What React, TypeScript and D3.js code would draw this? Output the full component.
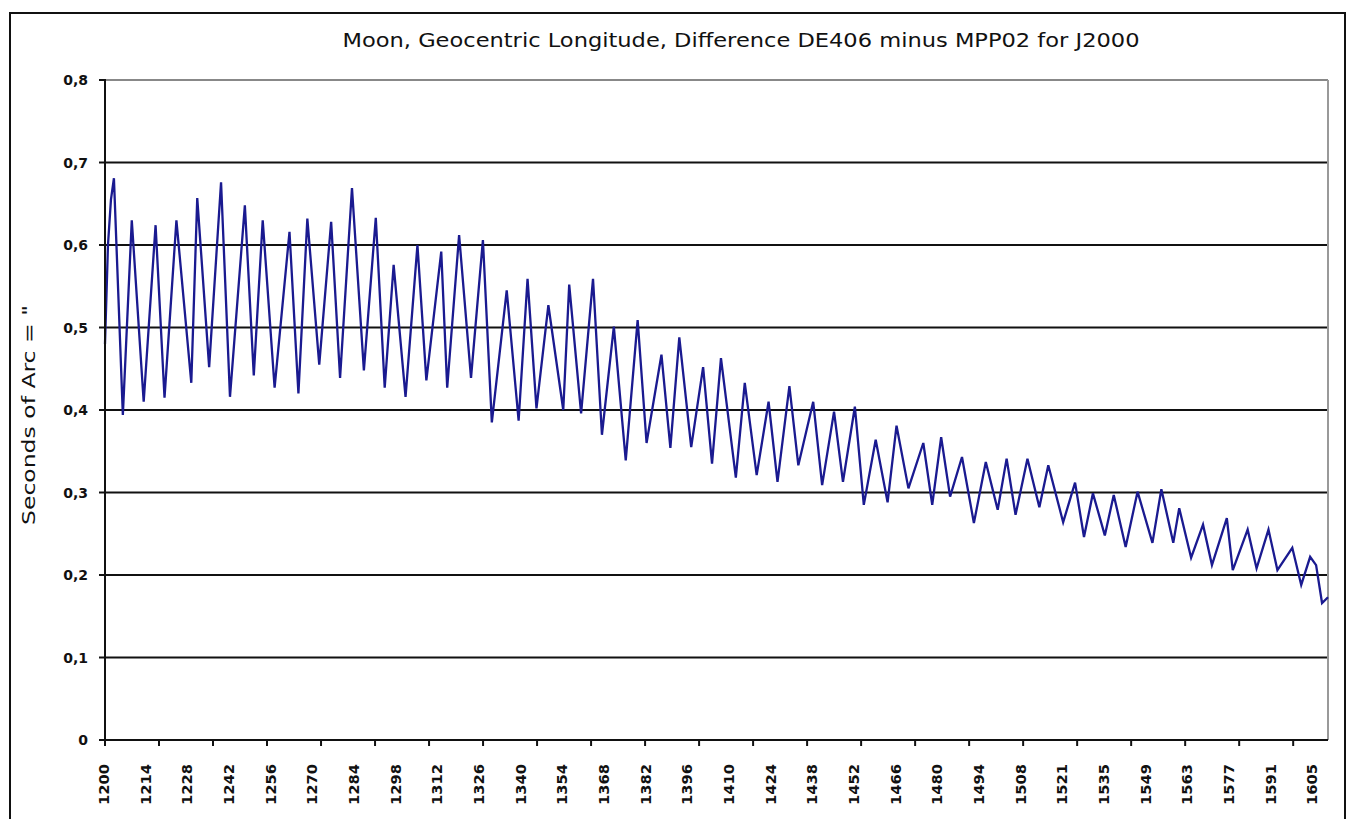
import React from "react";
import * as d3 from "d3";

// ---- data ----
// sample index (one category per sample, labels every 14 samples) and value in seconds of arc
const pointIdx = [
  0, 1, 2, 3, 6, 9, 13, 17, 20, 24, 29, 31, 35, 39, 42, 47, 50, 53, 57, 62, 65, 68,
  72, 76, 79, 83, 87, 91, 94, 97, 101, 105, 108, 113, 115, 119, 123, 127, 130, 135,
  139, 142, 145, 149, 154, 156, 160, 164, 167, 171, 175, 179, 182, 187, 190, 193, 197,
  201, 204, 207, 212, 215, 219, 223, 226, 230, 233, 238, 241, 245, 248, 252, 255, 259,
  263, 266, 270, 275, 278, 281, 284, 288, 292, 296, 300, 303, 306, 310, 314, 317, 322,
  326, 329, 332, 336, 339, 343, 347, 352, 355, 359, 361, 365, 369, 372, 377, 379, 384,
  387, 391, 394, 399, 402, 405, 407, 409, 411,
];
const arcSeconds = [
  0.48, 0.6, 0.655, 0.681, 0.394, 0.63, 0.41, 0.624, 0.415, 0.63, 0.433, 0.657, 0.452,
  0.676, 0.416, 0.648, 0.442, 0.63, 0.427, 0.616, 0.42, 0.632,
  0.455, 0.628, 0.439, 0.669, 0.448, 0.633, 0.427, 0.576, 0.416, 0.6, 0.436, 0.592,
  0.427, 0.612, 0.439, 0.606, 0.385, 0.545,
  0.387, 0.559, 0.402, 0.527, 0.4, 0.552, 0.396, 0.559, 0.37, 0.501, 0.339, 0.509, 0.36,
  0.467, 0.354, 0.488, 0.355,
  0.452, 0.335, 0.463, 0.318, 0.433, 0.321, 0.41, 0.313, 0.429, 0.333, 0.41, 0.309,
  0.398, 0.313, 0.404, 0.285, 0.364,
  0.288, 0.381, 0.305, 0.36, 0.285, 0.367, 0.295, 0.343, 0.263, 0.337, 0.279, 0.341,
  0.273, 0.341, 0.282, 0.333, 0.264,
  0.312, 0.246, 0.299, 0.248, 0.297, 0.234, 0.301, 0.239, 0.304, 0.239, 0.281, 0.221,
  0.261, 0.212, 0.269, 0.206, 0.255,
  0.208, 0.255, 0.206, 0.233, 0.188, 0.222, 0.212, 0.166, 0.173,
];
const sampleCount = 412;
const labelEvery = 14;
const xTickLabels = [
  "1200", "1214", "1228", "1242", "1256", "1270", "1284", "1298", "1312", "1326",
  "1340", "1354", "1368", "1382", "1396", "1410", "1424", "1438", "1452", "1466",
  "1480", "1494", "1508", "1521", "1535", "1549", "1563", "1577", "1591", "1605",
];
const yTicks = [0, 0.1, 0.2, 0.3, 0.4, 0.5, 0.6, 0.7, 0.8];
const yTickLabels = ["0", "0,1", "0,2", "0,3", "0,4", "0,5", "0,6", "0,7", "0,8"];
const title = "Moon, Geocentric Longitude, Difference DE406 minus MPP02 for J2000";
const yTitle = 'Seconds of Arc = "';

export default function App() {
  const W = 1349;
  const H = 819;
  const left = 105;
  const right = 1328;
  const top = 80;
  const bottom = 740;
  const tickMarkEvery = 18.15;

  const x = d3.scaleLinear().domain([0, sampleCount - 1]).range([left, right]);
  const y = d3.scaleLinear().domain([0, 0.8]).range([bottom, top]);

  const pts = pointIdx.map((i, k) => [i, arcSeconds[k]] as [number, number]);
  const line = d3
    .line<[number, number]>()
    .x((d) => x(d[0]))
    .y((d) => y(d[1]));

  const tickMarks = d3.range(0, sampleCount - 1, tickMarkEvery);
  const font = "'DejaVu Sans', Verdana, sans-serif";

  return (
    <svg
      width={W}
      height={H}
      style={{ position: "absolute", left: 0, top: 0, background: "#fff" }}
    >
      <rect x={10} y={13} width={1335} height={830} fill="#fff" stroke="#111" strokeWidth={2} />
      {/* gridlines */}
      {yTicks.map((t) =>
        t === 0 ? null : (
          <line
            key={"g" + t}
            x1={left}
            x2={right}
            y1={y(t)}
            y2={y(t)}
            stroke={t === 0.8 ? "#888" : "#111"}
            strokeWidth={2}
          />
        )
      )}
      <line x1={right} x2={right} y1={top} y2={bottom} stroke="#999" strokeWidth={2} />
      {/* series */}
      <path d={line(pts) || ""} fill="none" stroke="#1a1a90" strokeWidth={2.3} strokeLinejoin="miter" />
      {/* axes */}
      <line x1={left} x2={left} y1={top - 1} y2={bottom + 1} stroke="#111" strokeWidth={2} />
      <line x1={left - 1} x2={right} y1={bottom} y2={bottom} stroke="#111" strokeWidth={2} />
      {yTicks.map((t, i) => (
        <g key={"yt" + t}>
          <line x1={left - 6} x2={left} y1={y(t)} y2={y(t)} stroke="#111" strokeWidth={2} />
          <text
            x={88}
            y={y(t)}
            dy="0.36em"
            textAnchor="end"
            fontFamily={font}
            fontSize={14}
            fontWeight="bold"
            fill="#111"
          >
            {yTickLabels[i]}
          </text>
        </g>
      ))}
      {tickMarks.map((v) => (
        <line key={"xt" + v} x1={x(v)} x2={x(v)} y1={bottom} y2={bottom + 6} stroke="#111" strokeWidth={2} />
      ))}
      {xTickLabels.map((lab, i) => {
        const cx = x(i * labelEvery) - 1;
        return (
          <text
            key={"xl" + lab}
            transform={`translate(${cx},764) rotate(-90)`}
            textAnchor="end"
            dy="0.36em"
            fontFamily={font}
            fontSize={14}
            fontWeight="bold"
            textLength={41}
            lengthAdjust="spacingAndGlyphs"
            fill="#111"
          >
            {lab}
          </text>
        );
      })}
      <text
        x={741}
        y={47}
        textAnchor="middle"
        fontFamily={font}
        fontSize={19}
        textLength={797}
        lengthAdjust="spacingAndGlyphs"
        fill="#111"
      >
        {title}
      </text>
      <text
        transform="translate(35,415) rotate(-90)"
        textAnchor="middle"
        fontFamily={font}
        fontSize={18}
        textLength={220}
        lengthAdjust="spacingAndGlyphs"
        fill="#111"
      >
        {yTitle}
      </text>
    </svg>
  );
}
